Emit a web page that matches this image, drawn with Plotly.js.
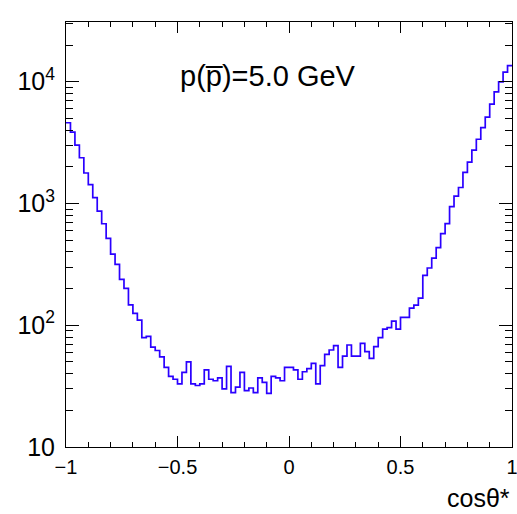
<!DOCTYPE html>
<html>
<head>
<meta charset="utf-8">
<script src="https://cdn.plot.ly/plotly-3.0.1.min.js"></script>
<style>html,body{margin:0;padding:0;background:#fff;}#chart{width:517px;height:514px;}</style>
</head>
<body>
<div id="chart"></div>
<script>
// Histogram definition: 100 bins on cos(theta*) from -1 to 1
const nBins = 100;
const xMin = -1;
const xMax = 1;

// Bin contents (events per bin), left to right
const counts = [
  4600, 3855, 3015, 2373, 1778, 1429, 1117, 866, 681, 517,
  384, 316, 238, 201, 147, 125, 110, 79, 81, 66,
  62, 55, 45, 38, 36, 33, 41, 50, 33, 32,
  33, 43, 36, 35, 37, 30, 46, 28, 31, 41,
  29, 30.5, 28, 37, 34, 27.6, 38, 37, 35, 45,
  45, 43, 36, 41.5, 44, 48.6, 33, 46.5, 57.7, 62.6,
  68, 45, 55.8, 68.8, 55.8, 55.8, 71, 60.6, 53.5, 66.6,
  79, 93, 95.7, 108, 93, 116, 116, 138, 146.5, 167,
  257, 295, 356, 433, 566, 684, 940, 1150, 1352, 1800,
  2188, 2743, 3367, 4188, 5120, 6546, 8260, 9977, 11990, 13550
];

// Axis labels
const xTickVals = [-1, -0.5, 0, 0.5, 1];
const xTickText = ['\u22121', '\u22120.5', '0', '0.5', '1'];
const xTitle = 'cosθ*';
const label = 'p(p\u0305)=5.0 GeV';

// Step outline: left bin edges plus the final right edge
const binWidth = (xMax - xMin) / nBins;
const edges = [];
for (let i = 0; i <= nBins; i++) edges.push(xMin + i * binWidth);
const stepY = counts.concat([counts[counts.length - 1]]);

const trace = {
  type: 'scatter',
  mode: 'lines',
  x: edges,
  y: stepY,
  line: {shape: 'hv', color: '#2a00ff', width: 1.7},
  hoverinfo: 'skip'
};

const font = 'Liberation Sans, Arial, Helvetica, sans-serif';

const layout = {
  width: 517,
  height: 514,
  margin: {l: 66, r: 5, t: 22, b: 67},
  paper_bgcolor: '#ffffff',
  plot_bgcolor: '#ffffff',
  showlegend: false,
  font: {family: font, color: '#000', size: 20},
  xaxis: {
    range: [xMin, xMax],
    tickmode: 'array',
    tickvals: xTickVals,
    ticktext: xTickText,
    ticks: 'inside',
    ticklen: 11,
    tickwidth: 1,
    tickcolor: '#000',
    showline: true,
    linecolor: '#000',
    linewidth: 1,
    mirror: 'allticks',
    showgrid: false,
    zeroline: false,
    ticklabeloverflow: 'allow',
    ticklabelstandoff: 2,
    tickfont: {family: font, size: 20, color: '#000'},
    minor: {tickmode: 'linear', tick0: -1, dtick: 0.1, ticks: 'inside', ticklen: 5, tickcolor: '#000', showgrid: false}
  },
  yaxis: {
    type: 'log',
    range: [1, 4.49],
    dtick: 1,
    exponentformat: 'power',
    ticks: 'inside',
    ticklen: 13,
    tickwidth: 1,
    tickcolor: '#000',
    showline: true,
    linecolor: '#000',
    linewidth: 1,
    mirror: 'allticks',
    showgrid: false,
    zeroline: false,
    ticklabeloverflow: 'allow',
    ticklabelstandoff: 6,
    tickfont: {family: font, size: 20, color: '#000'},
    minor: {dtick: 'D1', ticks: 'inside', ticklen: 7, tickcolor: '#000', showgrid: false}
  },
  annotations: [
    {
      text: label,
      xref: 'paper', yref: 'paper',
      x: 0.452, y: 0.873,
      xanchor: 'center', yanchor: 'middle',
      showarrow: false,
      font: {family: font, size: 29, color: '#000'}
    },
    {
      text: xTitle,
      xref: 'paper', yref: 'paper',
      x: 1, y: 0,
      xanchor: 'right', yanchor: 'middle',
      yshift: -51,
      showarrow: false,
      font: {family: font, size: 25, color: '#000'}
    }
  ]
};

Plotly.newPlot('chart', [trace], layout, {displayModeBar: false, staticPlot: true});
</script>
</body>
</html>
